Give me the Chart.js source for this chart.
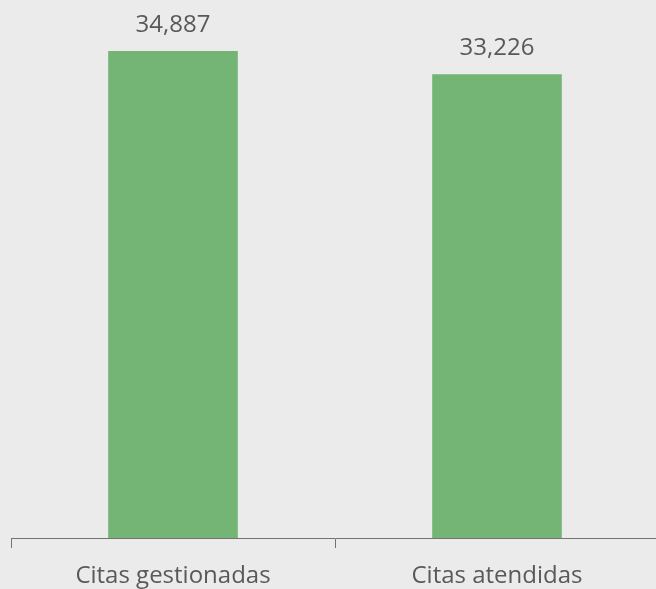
<!DOCTYPE html>
<html><head><meta charset="utf-8">
<script src="https://cdn.jsdelivr.net/npm/chart.js@4/dist/chart.umd.min.js"></script>
<style>html,body{margin:0;padding:0;background:#ebebeb;overflow:hidden;width:656px;height:589px}canvas{display:block}</style>
</head><body>
<canvas id="c" width="670" height="589" style="width:670px;height:589px"></canvas>
<script>
const categories = ["Citas gestionadas", "Citas atendidas"];
const values = [34887, 33226];
const yMax = 38540;

const labelPlugin = {
  id: 'valueLabels',
  afterDatasetsDraw(chart) {
    const ctx = chart.ctx;
    const meta = chart.getDatasetMeta(0);
    ctx.save();
    ctx.font = '24px "Open Sans"';
    ctx.fillStyle = '#595959';
    ctx.textAlign = 'center';
    ctx.textBaseline = 'alphabetic';
    meta.data.forEach((el, i) => {
      ctx.fillText(values[i].toLocaleString('en-US'), el.x, el.y - 19);
    });
    ctx.restore();
  }
};
const bgPlugin = {
  id: 'bg',
  beforeDraw(chart) {
    const ctx = chart.ctx;
    ctx.save();
    ctx.fillStyle = '#ebebeb';
    ctx.fillRect(0, 0, chart.width, chart.height);
    ctx.restore();
  }
};

new Chart(document.getElementById('c'), {
  type: 'bar',
  data: {
    labels: categories,
    datasets: [{
      data: values,
      backgroundColor: '#74b475',
      barPercentage: 0.4,
      categoryPercentage: 1.0
    }]
  },
  options: {
    responsive: false,
    animation: false,
    layout: { padding: { left: 11, right: 11, top: 0, bottom: 0 } },
    plugins: { legend: { display: false }, tooltip: { enabled: false } },
    scales: {
      x: {
        grid: { display: true, drawOnChartArea: false, drawTicks: true, tickLength: 10, color: '#737373', offset: true },
        border: { display: true, color: '#737373', width: 1 },
        ticks: { color: '#595959', font: { family: 'Open Sans', size: 24 }, padding: 14, maxRotation: 0 },
        afterFit(scale) { scale.height = 51; }
      },
      y: {
        display: false,
        min: 0,
        max: yMax
      }
    }
  },
  plugins: [bgPlugin, labelPlugin]
});
</script>
</body></html>
